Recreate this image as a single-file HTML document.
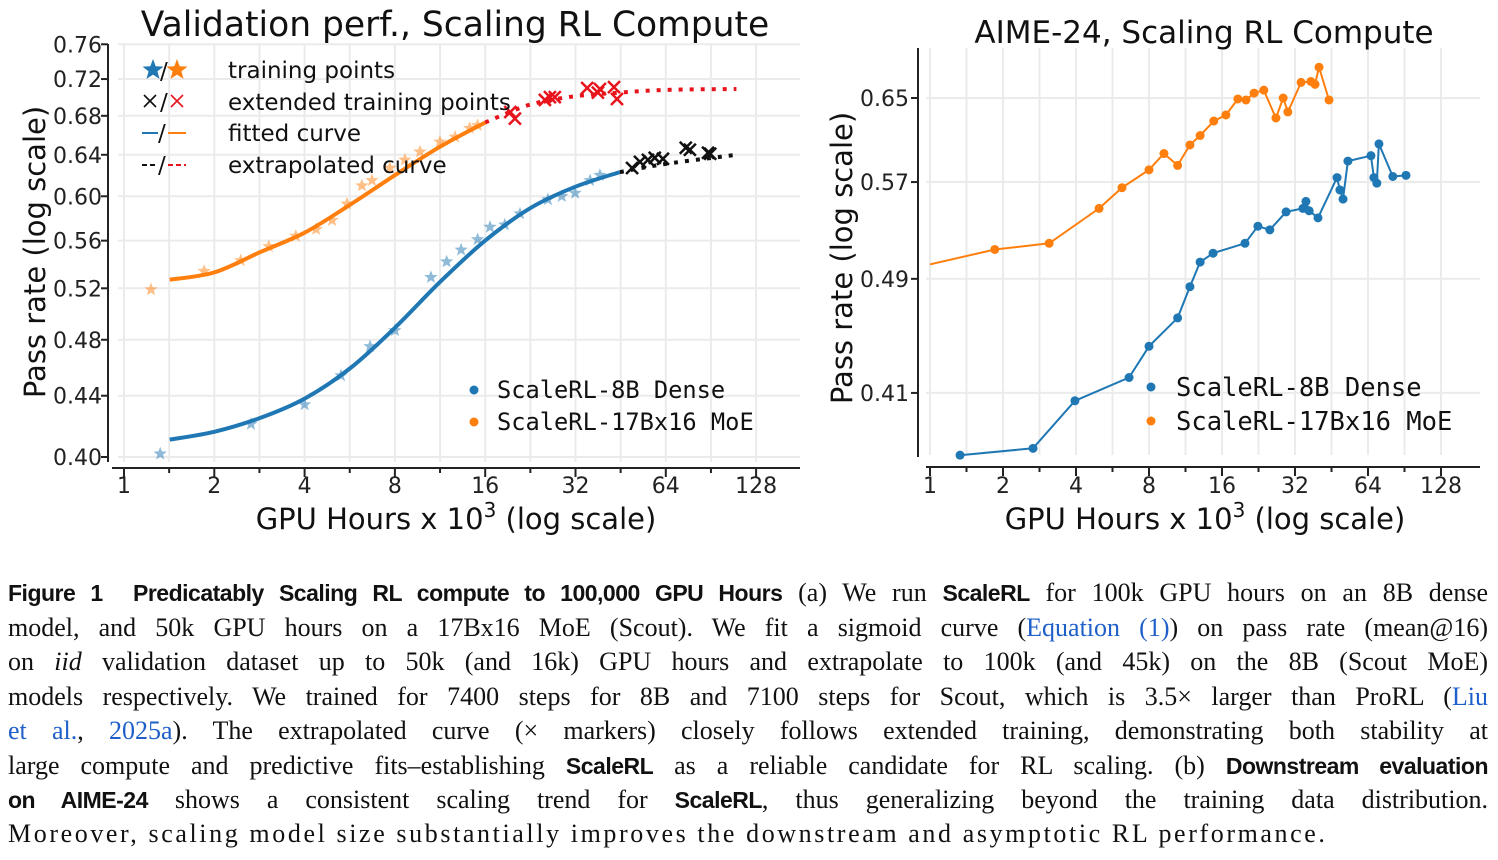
<!DOCTYPE html>
<html><head><meta charset="utf-8"><style>
html,body{margin:0;padding:0;background:#fff;width:1498px;height:860px;overflow:hidden}
svg{position:absolute;left:0;top:0}
.cap{position:absolute;left:8px;width:1480px;font-family:"Liberation Serif",serif;font-size:26px;line-height:34px;text-align:justify;text-align-last:justify;color:#111;white-space:nowrap}
.cap.last{text-align-last:left;letter-spacing:2.6px}
.b{font-family:"Liberation Sans",sans-serif;font-weight:bold;font-size:23px;letter-spacing:-0.5px}
.lk{color:#1f5fc9}
</style></head><body>
<svg id="fig" width="1498" height="560"></svg>
<div class="cap" style="top:576px"><span class="b">Figure 1&nbsp; Predicatably Scaling RL compute to 100,000 GPU Hours</span> (a) We run <span class="b">ScaleRL</span> for 100k GPU hours on an 8B dense</div>
<div class="cap" style="top:611px">model, and 50k GPU hours on a 17Bx16 MoE (Scout). We fit a sigmoid curve (<span class="lk">Equation (1)</span>) on pass rate (mean@16)</div>
<div class="cap" style="top:645px">on <i>iid</i> validation dataset up to 50k (and 16k) GPU hours and extrapolate to 100k (and 45k) on the 8B (Scout MoE)</div>
<div class="cap" style="top:680px">models respectively. We trained for 7400 steps for 8B and 7100 steps for Scout, which is 3.5× larger than ProRL (<span class="lk">Liu</span></div>
<div class="cap" style="top:714px"><span class="lk">et al.</span>, <span class="lk">2025a</span>). The extrapolated curve (× markers) closely follows extended training, demonstrating both stability at</div>
<div class="cap" style="top:749px">large compute and predictive fits–establishing <span class="b">ScaleRL</span> as a reliable candidate for RL scaling. (b) <span class="b">Downstream evaluation</span></div>
<div class="cap" style="top:783px"><span class="b">on AIME-24</span> shows a consistent scaling trend for <span class="b">ScaleRL</span>, thus generalizing beyond the training data distribution.</div>
<div class="cap last" style="top:817px">Moreover, scaling model size substantially improves the downstream and asymptotic RL performance.</div>
<script>
// ---- Left chart data ----
const blueFitX=[1.42,2,2.84,4,5.66,8,11.3,16,22.6,32,45];
const blueFitY=[0.411,0.416,0.425,0.438,0.459,0.489,0.525,0.560,0.589,0.609,0.623];
const blueExtX=[45,64,110];
const blueExtY=[0.623,0.631,0.640];
const orangeFitX=[1.42,2,2.84,4,5.66,8,11.3,16];
const orangeFitY=[0.527,0.533,0.550,0.567,0.592,0.620,0.648,0.673];
const orangeExtX=[16,22.6,32,45,64,110];
const orangeExtY=[0.673,0.692,0.701,0.705,0.708,0.709];
const blueStarX=[1.32,2.65,4,5.29,6.61,8,10.55,11.9,13.3,15.1,16.6,18.6,20.9,25.9,28.8,31.9,35.8,38.6];
const blueStarY=[0.402,0.421,0.434,0.454,0.475,0.487,0.529,0.542,0.552,0.561,0.572,0.574,0.584,0.597,0.600,0.603,0.615,0.620];
const orangeStarX=[1.23,1.85,2.45,3.04,3.74,4.37,4.94,5.54,6.21,6.71,7.7,8.64,9.7,11.3,12.7,14.2,15.1];
const orangeStarY=[0.519,0.534,0.543,0.555,0.564,0.570,0.578,0.593,0.610,0.615,0.627,0.635,0.643,0.653,0.658,0.667,0.670];
const redXX=[19.4,20.1,25.3,26.3,27.3,35,38,38.6,43,44];
const redXY=[0.684,0.677,0.697,0.700,0.700,0.710,0.705,0.709,0.711,0.698];
const blackXX=[49.4,52.5,55.8,58.8,62.6,74.6,77,88.5,90];
const blackXY=[0.627,0.633,0.635,0.637,0.636,0.647,0.645,0.642,0.641];
const leftYTicks=[0.40,0.44,0.48,0.52,0.56,0.60,0.64,0.68,0.72,0.76];
const xTicks=[1,2,4,8,16,32,64,128];
// ---- Right chart data ----
const aimeBlueX=[1.33,2.66,3.96,6.62,8,10.5,11.8,13,14.7,19.9,22.5,25.2,29.4,34.5,35.5,36.6,39.8,47.7,49,50.5,52.9,65.8,67.7,69.6,71,81,91.8];
const aimeBlueY=[0.372,0.376,0.405,0.420,0.441,0.461,0.484,0.503,0.510,0.518,0.532,0.529,0.544,0.547,0.553,0.545,0.539,0.574,0.563,0.555,0.589,0.594,0.574,0.569,0.605,0.575,0.576];
const aimeOrangeX=[0.8,1.85,3.1,4.98,6.19,8,9.22,10.5,11.8,13,14.8,16.6,18.6,20.1,21.7,23.8,26.7,28.6,29.9,33.9,37.2,38.7,40.2,44.2];
const aimeOrangeY=[0.497,0.513,0.518,0.547,0.565,0.581,0.596,0.585,0.604,0.613,0.627,0.633,0.649,0.648,0.655,0.658,0.630,0.650,0.636,0.666,0.667,0.664,0.682,0.648];
const rightYTicks=[0.41,0.49,0.57,0.65];

const NS='http://www.w3.org/2000/svg';
const svg=document.getElementById('fig');
function mk(tag,attrs,parent){const e=document.createElementNS(NS,tag);for(const k in attrs)e.setAttribute(k,attrs[k]);(parent||svg).appendChild(e);return e;}
function txt(s,attrs,parent){const e=mk('text',attrs,parent);e.textContent=s;return e;}
const BLUE='#1f77b4',ORANGE='#ff7f0e';

const Lx=v=>124+90.3*Math.log2(v);
const Ly=v=>457-643*Math.log(v/0.40);
const Rx=v=>930+73*Math.log2(v);
const Ry=v=>98-640*Math.log(v/0.65);

function grid(g,fx,x0,x1,y0,y1,yt,fy){
  for(let k=0;k<=14;k++){const v=Math.pow(2,k/2);const x=fx(v);if(x<x0-1||x>x1)continue;
    const l=mk('line',{x1:x,x2:x,y1:y0,y2:y1,stroke:'#ebebeb','stroke-width':2},g);
    }
  yt.forEach(v=>{const y=fy(v);const l=mk('line',{x1:x0,x2:x1,y1:y,y2:y,stroke:'#ebebeb','stroke-width':2},g);
    });
}
function pathD(xs,ys,fx,fy){return xs.map((x,i)=>(i?'L':'M')+fx(x).toFixed(1)+','+fy(ys[i]).toFixed(1)).join(' ');}
function smoothD(xs,ys,fx,fy){const P=xs.map((x,i)=>[fx(x),fy(ys[i])]);let d='M'+P[0][0].toFixed(1)+','+P[0][1].toFixed(1);
  for(let i=0;i<P.length-1;i++){const p0=P[Math.max(0,i-1)],p1=P[i],p2=P[i+1],p3=P[Math.min(P.length-1,i+2)];
    const c1=[p1[0]+(p2[0]-p0[0])/6,p1[1]+(p2[1]-p0[1])/6],c2=[p2[0]-(p3[0]-p1[0])/6,p2[1]-(p3[1]-p1[1])/6];
    d+=`C${c1[0].toFixed(1)},${c1[1].toFixed(1)} ${c2[0].toFixed(1)},${c2[1].toFixed(1)} ${p2[0].toFixed(1)},${p2[1].toFixed(1)}`;}
  return d;}
function star(cx,cy,r){let p=[];for(let i=0;i<10;i++){const a=-Math.PI/2+i*Math.PI/5;const rr=i%2?r*0.42:r;p.push((cx+rr*Math.cos(a)).toFixed(1)+','+(cy+rr*Math.sin(a)).toFixed(1));}return p.join(' ');}
function cross(g,cx,cy,r,col,w){mk('path',{d:`M${cx-r},${cy-r}L${cx+r},${cy+r}M${cx-r},${cy+r}L${cx+r},${cy-r}`,stroke:col,'stroke-width':w,fill:'none'},g);}
function xAxis(g,fx,x0,x1,y,lblY){
  mk('line',{x1:x0,x2:x1,y1:y,y2:y,stroke:'#222','stroke-width':2},g);
  for(let k=0;k<=14;k++){const v=Math.pow(2,k/2);const x=fx(v);mk('line',{x1:x,x2:x,y1:y,y2:y+(k%2?5:9),stroke:'#222','stroke-width':2},g);}
  xTicks.forEach(v=>{const t=txt(String(v),{x:fx(v),y:lblY,'font-family':'DejaVu Sans, sans-serif','font-size':22,'text-anchor':'middle',fill:'#222'},g);
    });
}

// ===== LEFT CHART =====
const L=mk('g',{});
grid(L,Lx,118,800,44,462,leftYTicks,Ly);
mk('line',{x1:108,x2:108,y1:44,y2:462,stroke:'#222','stroke-width':2},L);
leftYTicks.forEach(v=>{const y=Ly(v);mk('line',{x1:101,x2:108,y1:y,y2:y,stroke:'#222','stroke-width':2},L);
  const t=txt(v.toFixed(2),{x:102,y:y+8,'font-family':'DejaVu Sans, sans-serif','font-size':22,'text-anchor':'end',fill:'#222'},L);
  });
xAxis(L,Lx,112,800,468,493);
let t=txt('Validation perf., Scaling RL Compute',{x:455,y:36,'font-family':'DejaVu Sans, sans-serif','font-size':34.5,'text-anchor':'middle',fill:'#111'},L);

t=txt('Pass rate (log scale)',{x:0,y:0,transform:'translate(45,252) rotate(-90)','font-family':'DejaVu Sans, sans-serif','font-size':29,'text-anchor':'middle',fill:'#111'},L);

t=txt('',{x:456,y:529,'font-family':'DejaVu Sans, sans-serif','font-size':29,'text-anchor':'middle',fill:'#111'},L);
t.innerHTML='GPU Hours x 10<tspan dy="-12" font-size="20">3</tspan><tspan dy="12"> (log scale)</tspan>';

blueStarX.forEach((x,i)=>{const s=mk('polygon',{points:star(Lx(x),Ly(blueStarY[i]),7),fill:BLUE,'fill-opacity':0.5},L);
  });
orangeStarX.forEach((x,i)=>{const s=mk('polygon',{points:star(Lx(x),Ly(orangeStarY[i]),7),fill:ORANGE,'fill-opacity':0.5},L);
  });
let p=mk('path',{d:smoothD(blueFitX,blueFitY,Lx,Ly),stroke:BLUE,'stroke-width':4,fill:'none'},L);

p=mk('path',{d:smoothD(orangeFitX,orangeFitY,Lx,Ly),stroke:ORANGE,'stroke-width':4,fill:'none'},L);

p=mk('path',{d:smoothD(blueExtX,blueExtY,Lx,Ly),stroke:'#111','stroke-width':4,fill:'none','stroke-dasharray':'4 7'},L);

p=mk('path',{d:smoothD(orangeExtX,orangeExtY,Lx,Ly),stroke:'#e8141c','stroke-width':4,fill:'none','stroke-dasharray':'4 7'},L);

redXX.forEach((x,i)=>{const g=mk('g',{},L);cross(g,Lx(x),Ly(redXY[i]),6,'#e8141c',2.5);});
blackXX.forEach((x,i)=>{const g=mk('g',{},L);cross(g,Lx(x),Ly(blackXY[i]),6,'#111',2.5);});
const lg=mk('g',{},L);
const lf={'font-family':'DejaVu Sans, sans-serif','font-size':23,fill:'#111'};
mk('polygon',{points:star(153,70,11),fill:BLUE},lg);txt('/',Object.assign({x:160,y:79},lf),lg);mk('polygon',{points:star(177,70,11),fill:ORANGE},lg);
txt('training points',Object.assign({x:228,y:78},lf),lg);
cross(lg,150,101,6,'#111',1.6);txt('/',Object.assign({x:160,y:110},lf),lg);cross(lg,177,101,6,'#e8141c',1.6);
txt('extended training points',Object.assign({x:228,y:110},lf),lg);
mk('line',{x1:142,x2:158,y1:133,y2:133,stroke:BLUE,'stroke-width':2},lg);txt('/',Object.assign({x:158,y:141},lf),lg);mk('line',{x1:168,x2:186,y1:133,y2:133,stroke:ORANGE,'stroke-width':2},lg);
txt('fitted curve',Object.assign({x:228,y:141},lf),lg);
mk('line',{x1:142,x2:158,y1:165,y2:165,stroke:'#111','stroke-width':2,'stroke-dasharray':'5 3'},lg);txt('/',Object.assign({x:158,y:173},lf),lg);mk('line',{x1:168,x2:186,y1:165,y2:165,stroke:'#e8141c','stroke-width':2,'stroke-dasharray':'5 3'},lg);
txt('extrapolated curve',Object.assign({x:228,y:173},lf),lg);
const mf={'font-family':'DejaVu Sans Mono, monospace','font-size':23.7,fill:'#111'};
const sl=mk('g',{},L);
mk('circle',{cx:474,cy:390,r:4.5,fill:BLUE},sl);txt('ScaleRL-8B Dense',Object.assign({x:497,y:398},mf),sl);
mk('circle',{cx:474,cy:422,r:4.5,fill:ORANGE},sl);txt('ScaleRL-17Bx16 MoE',Object.assign({x:497,y:430},mf),sl);

// ===== RIGHT CHART =====
const R=mk('g',{});
grid(R,Rx,926,1480,48,455,rightYTicks,Ry);
mk('line',{x1:918,x2:918,y1:48,y2:457,stroke:'#222','stroke-width':2},R);
rightYTicks.forEach(v=>{const y=Ry(v);mk('line',{x1:911,x2:918,y1:y,y2:y,stroke:'#222','stroke-width':2},R);
  const tt=txt(v.toFixed(2),{x:909,y:y+8,'font-family':'DejaVu Sans, sans-serif','font-size':22,'text-anchor':'end',fill:'#222'},R);
  });
xAxis(R,Rx,926,1480,467,493);
t=txt('AIME-24, Scaling RL Compute',{x:1204,y:43,'font-family':'DejaVu Sans, sans-serif','font-size':31,'text-anchor':'middle',fill:'#111'},R);

t=txt('Pass rate (log scale)',{x:0,y:0,transform:'translate(852,258) rotate(-90)','font-family':'DejaVu Sans, sans-serif','font-size':29,'text-anchor':'middle',fill:'#111'},R);

t=txt('',{x:1205,y:529,'font-family':'DejaVu Sans, sans-serif','font-size':29,'text-anchor':'middle',fill:'#111'},R);
t.innerHTML='GPU Hours x 10<tspan dy="-12" font-size="20">3</tspan><tspan dy="12"> (log scale)</tspan>';

const cp=mk('clipPath',{id:'rclip'},R);mk('rect',{x:930,y:40,width:560,height:425},cp);
const rs=mk('g',{'clip-path':'url(#rclip)'},R);
p=mk('path',{d:pathD(aimeOrangeX,aimeOrangeY,Rx,Ry),stroke:ORANGE,'stroke-width':2,fill:'none'},rs);

aimeOrangeX.forEach((x,i)=>{const c=mk('circle',{cx:Rx(x),cy:Ry(aimeOrangeY[i]),r:4.5,fill:ORANGE},rs);
  });
p=mk('path',{d:pathD(aimeBlueX,aimeBlueY,Rx,Ry),stroke:BLUE,'stroke-width':2,fill:'none'},rs);

aimeBlueX.forEach((x,i)=>{const c=mk('circle',{cx:Rx(x),cy:Ry(aimeBlueY[i]),r:4.5,fill:BLUE},rs);
  });
const mf2={'font-family':'DejaVu Sans Mono, monospace','font-size':25.5,fill:'#111'};
const rl=mk('g',{},R);
mk('circle',{cx:1151,cy:387,r:4.5,fill:BLUE},rl);txt('ScaleRL-8B Dense',Object.assign({x:1176,y:396},mf2),rl);
mk('circle',{cx:1151,cy:421,r:4.5,fill:ORANGE},rl);txt('ScaleRL-17Bx16 MoE',Object.assign({x:1176,y:430},mf2),rl);
</script>
</body></html>
